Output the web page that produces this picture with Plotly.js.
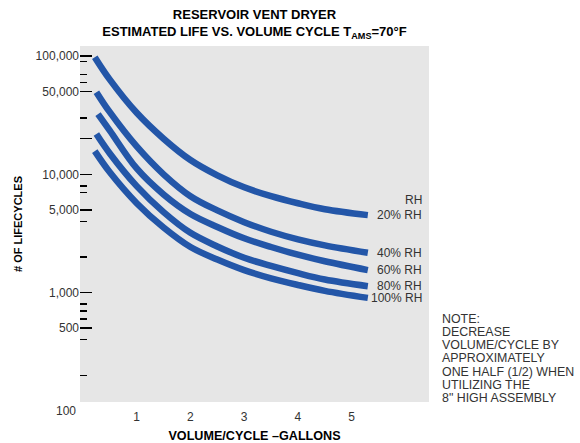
<!DOCTYPE html>
<html>
<head>
<meta charset="utf-8">
<script src="https://cdn.plot.ly/plotly-3.0.1.min.js"></script>
<style>html,body{margin:0;padding:0;background:#fff;}#chart{width:580px;height:443px;}</style>
</head>
<body>
<div id="chart"></div>
<script>
// ---- data ----
const SERIES_NAMES = ["20% RH", "40% RH", "60% RH", "80% RH", "100% RH"];
const rh20_x = [0.22, 0.5, 1.0, 1.5, 2.0, 2.5, 3.0, 3.5, 4.0, 4.5, 5.3];
const rh20_y = [97700, 63100, 33100, 20000, 13200, 9800, 7760, 6530, 5690, 5070, 4520];
const rh40_x = [0.25, 0.5, 1.0, 1.5, 2.0, 2.5, 3.0, 3.5, 4.0, 4.5, 5.3];
const rh40_y = [49500, 33500, 17200, 10000, 6530, 4950, 3940, 3270, 2820, 2510, 2170];
const rh60_x = [0.28, 0.5, 1.0, 1.5, 2.0, 2.5, 3.0, 3.5, 4.0, 4.5, 5.3];
const rh60_y = [32300, 23400, 11200, 6760, 4620, 3590, 2880, 2430, 2090, 1840, 1550];
const rh80_x = [0.25, 0.5, 1.0, 1.5, 2.0, 2.5, 3.0, 3.5, 4.0, 4.5, 5.3];
const rh80_y = [21900, 15000, 7940, 4790, 3200, 2455, 1970, 1680, 1460, 1290, 1133];
const rh100_x = [0.22, 0.5, 1.0, 1.5, 2.0, 2.5, 3.0, 3.5, 4.0, 4.5, 5.3];
const rh100_y = [15700, 10400, 5700, 3550, 2430, 1905, 1550, 1320, 1160, 1035, 902];

const X_TICKS = [1, 2, 3, 4, 5];
const Y_MAJOR_VALS = [100000, 50000, 20000, 10000, 5000, 1000, 500];
const Y_MAJOR_TEXT = ["100,000", "50,000", " ", "10,000", "5,000", "1,000", "500"];
const Y_MINOR_VALS = [90000, 70000, 60000, 30000, 8000, 7000, 4000, 2000, 800, 700, 600, 400, 200];
const Y_BOTTOM_LABEL = "100";
const NOTE_LINES = ["NOTE:", "DECREASE", "VOLUME/CYCLE BY", "APPROXIMATELY",
                    "ONE HALF (1/2) WHEN", "UTILIZING THE", "8\" HIGH ASSEMBLY"];

const XS = [rh20_x, rh40_x, rh60_x, rh80_x, rh100_x];
const YS = [rh20_y, rh40_y, rh60_y, rh80_y, rh100_y];

// ---- layout helpers ----
const W = 580, H = 443;
const M = {l: 80, r: 151, t: 46, b: 41.3};
const plotH = H - M.t - M.b;
const pyToPaper = py => (H - M.b - py) / plotH;
const pxToPaper = px => (px - M.l) / (W - M.l - M.r);

const FONT = "Liberation Sans, Arial, Helvetica, sans-serif";
const BLUE = "#2356a8";
const TXT = "#333333";

const traces = XS.map((xs, i) => ({
  type: "scatter", mode: "lines", name: SERIES_NAMES[i],
  x: xs, y: YS[i],
  line: {color: BLUE, width: 6.5, shape: "spline", smoothing: 1},
  hoverinfo: "skip"
}));

const annotations = [];
// end labels
XS.forEach((xs, i) => {
  annotations.push({
    xref: "x", yref: "y", x: 6.34, y: Math.log10(YS[i][YS[i].length - 1]),
    xanchor: "right", yanchor: "middle", showarrow: false,
    text: SERIES_NAMES[i], font: {family: FONT, size: 12, color: TXT}
  });
});
annotations.push({
  xref: "x", yref: "y", x: 6.34, y: Math.log10(YS[0][YS[0].length - 1]),
  yshift: 15, xanchor: "right", yanchor: "middle", showarrow: false,
  text: "RH", font: {family: FONT, size: 12, color: TXT}
});
// bottom "100" label
annotations.push({
  xref: "paper", yref: "paper", x: pxToPaper(78), y: pyToPaper(411),
  xanchor: "right", yanchor: "middle", showarrow: false,
  text: Y_BOTTOM_LABEL, font: {family: FONT, size: 12, color: TXT}
});
// note
NOTE_LINES.forEach((t, i) => {
  annotations.push({
    xref: "paper", yref: "paper", x: pxToPaper(439.5), y: pyToPaper(318.5 + i * 13.2),
    xanchor: "left", yanchor: "middle", showarrow: false, align: "left",
    text: t, font: {family: FONT, size: 12.4, color: TXT}
  });
});

const layout = {
  width: W, height: H,
  margin: M,
  paper_bgcolor: "#ffffff",
  plot_bgcolor: "#e6e6e6",
  showlegend: false,
  title: {
    text: "<b>RESERVOIR VENT DRYER<br>ESTIMATED LIFE VS. VOLUME CYCLE T<sub>AMS</sub>=70°F</b>",
    font: {family: FONT, size: 13, color: "#000"},
    x: 0.5, xref: "paper", y: 1 - 19 / H, yref: "container", yanchor: "middle"
  },
  xaxis: {
    range: [-0.055, 6.438],
    tickvals: X_TICKS,
    ticks: "", showgrid: false, zeroline: false, showline: false,
    ticklabelstandoff: 6,
    tickfont: {family: FONT, size: 12, color: TXT},
    title: {text: "<b>VOLUME/CYCLE –GALLONS</b>", font: {family: FONT, size: 12.6, color: "#000"}, standoff: 9},
    automargin: false, fixedrange: true
  },
  yaxis: {
    type: "log",
    range: [2.0753, 5.0846],
    tickmode: "array",
    tickvals: Y_MAJOR_VALS, ticktext: Y_MAJOR_TEXT,
    ticks: "inside", ticklen: 12, tickwidth: 1.5, tickcolor: "#000",
    minor: {tickmode: "array", tickvals: Y_MINOR_VALS, ticks: "inside", ticklen: 7, tickwidth: 1.5, tickcolor: "#000", showgrid: false},
    showgrid: false, zeroline: false, showline: false,
    tickfont: {family: FONT, size: 12, color: TXT},
    title: {text: "<b># OF LIFECYCLES</b>", font: {family: FONT, size: 11, color: "#000"}, standoff: 10},
    automargin: false, fixedrange: true
  },
  annotations: annotations
};

Plotly.newPlot("chart", traces, layout, {staticPlot: true, displayModeBar: false});
</script>
</body>
</html>
